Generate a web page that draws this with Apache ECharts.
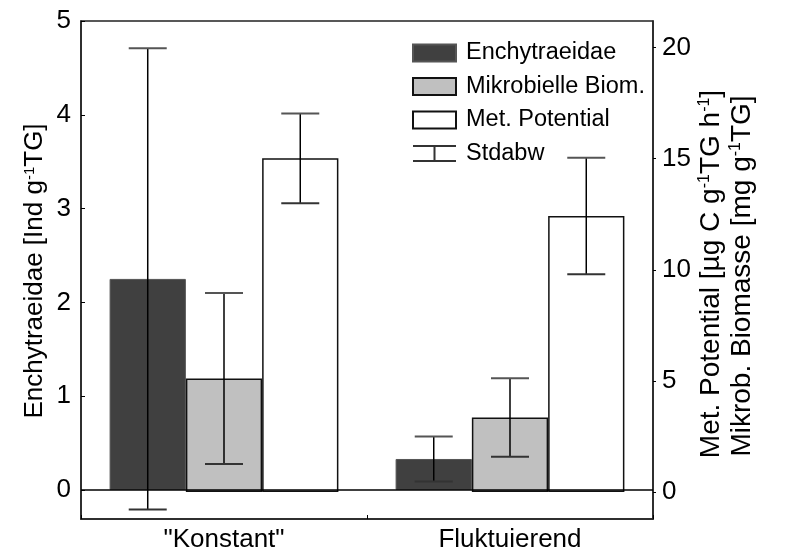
<!DOCTYPE html>
<html>
<head>
<meta charset="utf-8">
<script src="https://cdn.jsdelivr.net/npm/echarts@6/dist/echarts.min.js"></script>
<style>html,body{margin:0;padding:0;background:#fff}#c{width:789px;height:553px}</style>
</head>
<body>
<div id="c"></div>
<script>
// ---- data ----
const categories = ['"Konstant"', 'Fluktuierend'];
const enchyMean = [2.25, 0.33];
const enchySd = [2.46, 0.24];
const biomMean = [5.11, 3.35];
const biomSd = [3.85, 1.77];
const metMean = [15.02, 12.42];
const metSd = [2.02, 2.62];
const leftTicks = [0, 1, 2, 3, 4, 5];
const rightTicks = [0, 5, 10, 15, 20];

const FONT = 'Liberation Sans, Arial, sans-serif';
const chart = echarts.init(document.getElementById('c'));

function errSeries(name, mean, sd, yIdx, offset) {
  return {
    name: name,
    type: 'custom',
    yAxisIndex: yIdx,
    z: 5,
    itemStyle: { color: '#333' },
    data: mean.map((m, i) => [i, m, sd[i]]),
    renderItem: function (params, api) {
      const x = api.value(0), m = api.value(1), s = api.value(2);
      const bw = api.size([1, 0])[0];
      const barW = bw * 0.8 / 3;
      const c = api.coord([x, m]);
      const t = api.coord([x, m + s]);
      const b = api.coord([x, m - s]);
      const cx = c[0] + offset * barW;
      const h = 19;
      return {
        type: 'group',
        children: [
          { type: 'line', shape: { x1: cx, y1: t[1], x2: cx, y2: b[1] }, style: { stroke: '#000', lineWidth: 1.5 } },
          { type: 'line', shape: { x1: cx - h, y1: t[1], x2: cx + h, y2: t[1] }, style: { stroke: '#555', lineWidth: 2 } },
          { type: 'line', shape: { x1: cx - h, y1: b[1], x2: cx + h, y2: b[1] }, style: { stroke: '#333', lineWidth: 2 } }
        ]
      };
    }
  };
}

const supStyle = { fontSize: 15, verticalAlign: 'top', fontFamily: FONT, color: '#000' };
const normStyle = { fontSize: 26, fontFamily: FONT, color: '#000' };
const supStyleR = { fontSize: 16, verticalAlign: 'top', fontFamily: FONT, color: '#000' };
const normStyleR = { fontSize: 28, fontFamily: FONT, color: '#000' };

const option = {
  animation: false,
  backgroundColor: '#fff',
  textStyle: { fontFamily: FONT },
  grid: { left: 81, right: 136, top: 21, bottom: 32, show: true, borderColor: '#222', borderWidth: 1.5, backgroundColor: 'transparent' },
  legend: {
    orient: 'vertical',
    left: 407,
    top: 36,
    itemWidth: 43,
    itemHeight: 17,
    itemGap: 9.5,
    textStyle: { fontSize: 23.5, fontFamily: FONT, color: '#000', padding: [0, 0, 0, 5] },
    data: [
      { name: 'Enchytraeidae', icon: 'rect' },
      { name: 'Mikrobielle Biom.', icon: 'rect' },
      { name: 'Met. Potential', icon: 'rect' },
      { name: 'Stdabw', icon: 'path://M0,0H43V2H0Z M20.5,0H22.5V17H20.5Z M0,15H43V17H0Z', itemStyle: { color: '#333' } }
    ]
  },
  xAxis: {
    type: 'category',
    data: categories,
    axisLine: { show: true, onZero: false, lineStyle: { color: '#222', width: 1.5 } },
    axisTick: { show: true, inside: true, length: 4, lineStyle: { color: '#000' } },
    axisLabel: { fontSize: 26, color: '#000', fontFamily: FONT, margin: 8 },
    splitLine: { show: false }
  },
  yAxis: [
    {
      type: 'value', min: -0.31, max: 5,
      axisLine: { show: true, onZero: false, lineStyle: { color: '#222', width: 1.5 } },
      axisTick: { show: true, inside: true, length: 4, customValues: leftTicks, lineStyle: { color: '#000' } },
      axisLabel: { fontSize: 26, color: '#000', fontFamily: FONT, margin: 10, customValues: leftTicks },
      splitLine: { show: false }
    },
    {
      type: 'value', min: -1.22, max: 21.2, position: 'right',
      axisLine: { show: true, onZero: false, lineStyle: { color: '#222', width: 1.5 } },
      axisTick: { show: true, length: 3, customValues: rightTicks, lineStyle: { color: '#000' } },
      axisLabel: { fontSize: 26, color: '#000', fontFamily: FONT, margin: 9, customValues: rightTicks },
      splitLine: { show: false }
    }
  ],
  series: [
    {
      name: 'Enchytraeidae', type: 'bar', yAxisIndex: 0, data: enchyMean,
      barGap: '0%', barCategoryGap: '20%',
      itemStyle: { color: '#404040', borderColor: '#555', borderWidth: 1 },
      markLine: {
        silent: true, symbol: ['none', 'none'], label: { show: false },
        lineStyle: { color: '#000', width: 1.5, type: 'solid' },
        data: [{ yAxis: 0 }]
      }
    },
    {
      name: 'Mikrobielle Biom.', type: 'bar', yAxisIndex: 1, data: biomMean,
      barGap: '0%', barCategoryGap: '20%',
      itemStyle: { color: '#c0c0c0', borderColor: '#111', borderWidth: 1.5 }
    },
    {
      name: 'Met. Potential', type: 'bar', yAxisIndex: 1, data: metMean,
      barGap: '0%', barCategoryGap: '20%',
      itemStyle: { color: '#fff', borderColor: '#111', borderWidth: 1.5 }
    },
    errSeries('Stdabw', enchyMean, enchySd, 0, -1),
    errSeries('Stdabw2', biomMean, biomSd, 1, 0),
    errSeries('Stdabw3', metMean, metSd, 1, 1)
  ],
  graphic: [
    {
      type: 'text', x: 35, y: 271, rotation: Math.PI / 2,
      style: {
        text: '{n|Enchytraeidae [Ind g}{s|-1}{n|TG]}',
        rich: { n: normStyle, s: supStyle },
        align: 'center', verticalAlign: 'middle'
      }
    },
    {
      type: 'text', x: 711, y: 274, rotation: Math.PI / 2,
      style: {
        text: '{n|Met. Potential [µg C g}{s|-1}{n|TG h}{s|-1}{n|]}',
        rich: { n: normStyleR, s: supStyleR },
        align: 'center', verticalAlign: 'middle'
      }
    },
    {
      type: 'text', x: 742, y: 276, rotation: Math.PI / 2,
      style: {
        text: '{n|Mikrob. Biomasse [mg g}{s|-1}{n|TG]}',
        rich: { n: normStyleR, s: supStyleR },
        align: 'center', verticalAlign: 'middle'
      }
    }
  ]
};
chart.setOption(option);
</script>
</body>
</html>
